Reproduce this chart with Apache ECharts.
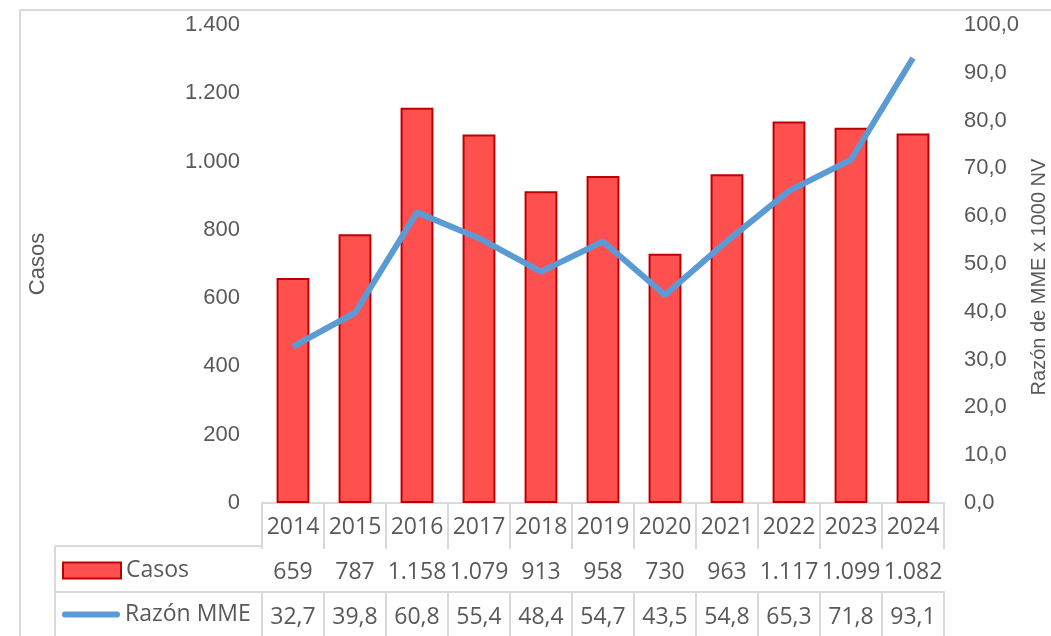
<!DOCTYPE html>
<html>
<head>
<meta charset="utf-8">
<script src="https://cdn.jsdelivr.net/npm/echarts@6/dist/echarts.min.js"></script>
<style>
html,body{margin:0;padding:0;background:#fff;overflow:hidden;}
#chart{width:1051px;height:636px;}
</style>
</head>
<body>
<div id="chart"></div>
<script>
const years = ['2014','2015','2016','2017','2018','2019','2020','2021','2022','2023','2024'];
const casos = [659, 787, 1158, 1079, 913, 958, 730, 963, 1117, 1099, 1082];
const razon = [32.7, 39.8, 60.8, 55.4, 48.4, 54.7, 43.5, 54.8, 65.3, 71.8, 93.1];
const seriesNames = ['Casos', 'Razón MME'];
const axisNames = ['Casos', 'Razón de MME x 1000 NV'];

function fmtThousands(n) { return String(n).replace(/\B(?=(\d{3})+(?!\d))/g, '.'); }
function fmtDec(n, d) { return n.toFixed(d).replace('.', ','); }

const GRAY = '#595959';
const LINE = '#D9D9D9';
const AXISFONT = "'Liberation Sans', Arial, sans-serif";
const TABLEFONT = "'Open Sans', 'Noto Sans', sans-serif";

const chart = echarts.init(document.getElementById('chart'), null, {renderer: 'canvas'});

function tableAxis(offset, margin, tickLen, formatter) {
  return {
    type: 'category', data: years, position: 'bottom', offset: offset,
    axisLine: {show: true, lineStyle: {color: LINE, width: 2}},
    axisTick: {show: true, length: tickLen, lineStyle: {color: LINE, width: 2}},
    axisLabel: {interval: 0, margin: margin, verticalAlign: 'middle', color: GRAY,
      fontFamily: TABLEFONT, fontSize: 23, formatter: formatter},
    splitLine: {show: false}
  };
}

chart.setOption({
  animation: false,
  backgroundColor: '#fff',
  grid: {left: 262, right: 107, top: 25, bottom: 133, containLabel: false, outerBoundsMode: 'none'},
  legend: [
    {data: [seriesNames[0]], left: 62, top: 559, padding: 0, itemWidth: 58, itemHeight: 16, itemGap: 0,
      icon: 'rect',
      textStyle: {color: GRAY, fontSize: 23, lineHeight: 16, fontFamily: TABLEFONT}},
    {data: [seriesNames[1]], left: 62, top: 603, padding: 0, itemWidth: 58, itemHeight: 6, itemGap: 0,
      icon: 'path://M3,0 L55,0 A3,3 0 0 1 55,6 L3,6 A3,3 0 0 1 3,0 Z',
      textStyle: {color: GRAY, fontSize: 23, lineHeight: 6, fontFamily: TABLEFONT}}
  ],
  xAxis: [
    tableAxis(0, 24, 43, v => v),
    tableAxis(43, 26, 46, (v, i) => fmtThousands(casos[i])),
    tableAxis(89, 25, 50, (v, i) => fmtDec(razon[i], 1))
  ],
  yAxis: [
    {type: 'value', min: 0, max: 1400, interval: 200, position: 'left',
      name: axisNames[0], nameLocation: 'middle', nameGap: 213, nameRotate: 90,
      nameTextStyle: {color: GRAY, fontSize: 22, fontFamily: AXISFONT},
      axisLine: {show: false}, axisTick: {show: false}, splitLine: {show: false},
      axisLabel: {margin: 22, color: GRAY, fontSize: 22, fontFamily: AXISFONT,
        formatter: v => fmtThousands(v)}},
    {type: 'value', min: 0, max: 100, interval: 10, position: 'right',
      name: axisNames[1], nameLocation: 'middle', nameGap: 85, nameRotate: 90,
      nameTextStyle: {color: GRAY, fontSize: 20, fontFamily: AXISFONT, padding: [0, 26, 0, 0]},
      axisLine: {show: false}, axisTick: {show: false}, splitLine: {show: false},
      axisLabel: {margin: 20, color: GRAY, fontSize: 22, fontFamily: AXISFONT,
        formatter: v => fmtDec(v, 1)}}
  ],
  series: [
    {name: seriesNames[0], type: 'bar', data: casos, xAxisIndex: 0, yAxisIndex: 0,
      barWidth: '53%',
      itemStyle: {color: '#FF5050', borderColor: '#C00000', borderWidth: 2}},
    {name: seriesNames[1], type: 'line', data: razon, xAxisIndex: 0, yAxisIndex: 1,
      symbol: 'none', z: 5,
      lineStyle: {color: '#5B9BD5', width: 6},
      itemStyle: {color: '#5B9BD5'}}
  ],
  graphic: [
    {type: 'line', shape: {x1: 20, y1: 10, x2: 1051, y2: 10}, style: {stroke: LINE, lineWidth: 2}, silent: true},
    {type: 'line', shape: {x1: 20, y1: 10, x2: 20, y2: 636}, style: {stroke: LINE, lineWidth: 2}, silent: true},
    {type: 'line', shape: {x1: 55, y1: 546, x2: 262, y2: 546}, style: {stroke: LINE, lineWidth: 2}, silent: true},
    {type: 'line', shape: {x1: 55, y1: 592, x2: 262, y2: 592}, style: {stroke: LINE, lineWidth: 2}, silent: true},
    {type: 'line', shape: {x1: 55, y1: 546, x2: 55, y2: 636}, style: {stroke: LINE, lineWidth: 2}, silent: true}
  ]
});
</script>
</body>
</html>
